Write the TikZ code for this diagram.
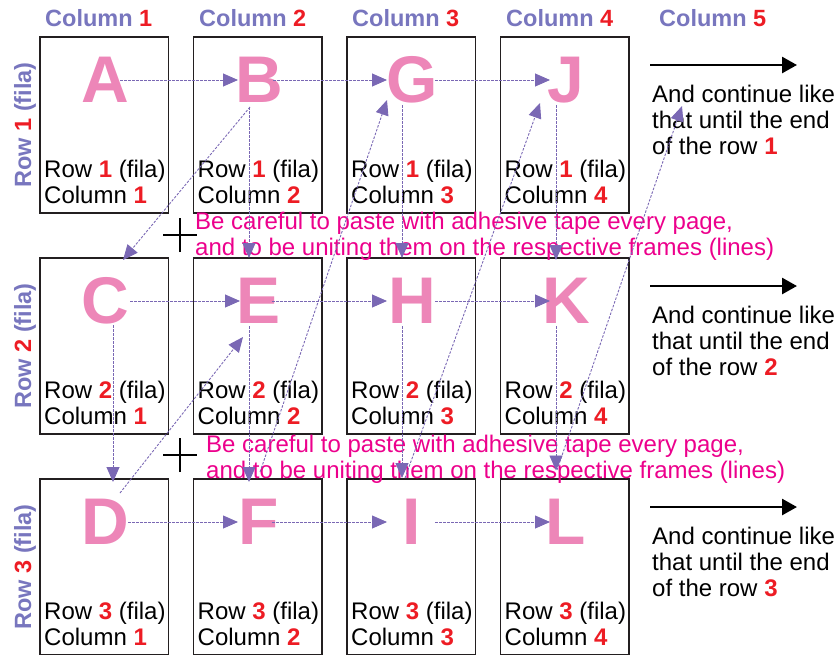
\documentclass[tikz,border=0pt]{standalone}
\usepackage{fontspec}
\setmainfont{Liberation Sans}
\usetikzlibrary{arrows.meta}
\definecolor{headcol}{RGB}{120,118,190}
\definecolor{numred}{RGB}{237,28,36}
\definecolor{letpink}{RGB}{237,134,184}
\definecolor{notepink}{RGB}{236,0,140}
\definecolor{linkcol}{RGB}{122,104,180}
\definecolor{framecol}{RGB}{35,31,32}
\newcommand\nr[1]{\textcolor{numred}{\bfseries #1}}
\tikzset{
 pagebox/.style={draw=framecol, line width=1.4pt, minimum width=128.5pt, minimum height=176pt, anchor=north west, inner sep=0pt, outer sep=0pt},
 letter/.style={text=letpink, font=\fontsize{66}{66}\selectfont\bfseries, inner sep=0pt, text height=47pt, text depth=0pt, anchor=base},
 boxtext/.style={font=\fontsize{24}{26}\selectfont, text=black, align=left, anchor=base west, inner sep=0pt},
 head/.style={font=\fontsize{23.5}{26}\selectfont\bfseries, text=headcol, anchor=base west, inner sep=0pt},
 rowlab/.style={font=\fontsize{23.5}{26}\selectfont\bfseries, text=headcol, anchor=base, rotate=90, inner sep=0pt},
 note/.style={font=\fontsize{24}{26}\selectfont, text=notepink, align=left, anchor=base west, inner sep=0pt},
 link/.style={draw=linkcol, line width=0.9pt, dash pattern=on 2.5pt off 1.5pt, -{Triangle[length=15pt,width=13pt]}},
 bigarrow/.style={draw=black, line width=2.7pt, -{Triangle[length=15pt,width=16pt]}},
 crossline/.style={draw=black, line width=1.8pt},
}
\begin{document}
\begin{tikzpicture}[x=1pt,y=-1pt]
\useasboundingbox (0,0) rectangle (837,654);
% pages
\foreach \c/\x in {1/40,2/193.5,3/347,4/500.5}
 \foreach \r/\y in {1/37,2/258,3/479} {
   \node[pagebox] (p\r\c) at (\x,\y) {};
   \node[boxtext] (t\r\c) at (\x+4,\y+166) {Row \nr{\r} (fila)\\Column \nr{\c}};
 }
% headers
\node[head] (h1) at (45,26) {Column \nr{1}};
\node[head] (h2) at (199,26) {Column \nr{2}};
\node[head] (h3) at (352,26) {Column \nr{3}};
\node[head] (h4) at (506,26) {Column \nr{4}};
\node[head] (h5) at (659,26) {Column \nr{5}};
% row labels
\node[rowlab] (r1) at (31,125) {Row \nr{1} (fila)};
\node[rowlab] (r2) at (31,346) {Row \nr{2} (fila)};
\node[rowlab] (r3) at (31,567) {Row \nr{3} (fila)};
% letters
\node[letter] (A) at (105,102) {A};
\node[letter] (B) at (259,102) {B};
\node[letter] (G) at (412,102) {G};
\node[letter] (J) at (566,102) {J};
\node[letter] (C) at (105,323) {C};
\node[letter] (E) at (259,323) {E};
\node[letter] (H) at (412,323) {H};
\node[letter] (K) at (566,323) {K};
\node[letter] (D) at (105,544) {D};
\node[letter] (F) at (259,544) {F};
\node[letter] (I) at (412,544) {I};
\node[letter] (L) at (566,544) {L};
% notes
\node[note] (n1) at (195,255) {Be careful to paste with adhesive tape every page,\\and to be uniting them on the respective frames (lines)};
\node[note] (n2) at (206,478) {Be careful to paste with adhesive tape every page,\\and to be uniting them on the respective frames (lines)};
% crosses
\coordinate (x1) at (180,235);
\coordinate (x2) at (180,455);
\foreach \q in {x1,x2} {
  \draw[crossline] ([xshift=-17pt]\q) -- ([xshift=17pt]\q);
  \draw[crossline] ([yshift=-17pt]\q) -- ([yshift=17pt]\q);
}
% right side
\foreach \r/\y in {1/65,2/286,3/507} {
  \coordinate (s\r) at (650,\y);
  \coordinate (e\r) at (797,\y);
  \draw[bigarrow] (s\r) -- (e\r);
  \node[boxtext] (m\r) at (652,\y+89) {And continue like\\that until the end\\of the row \nr{\r}};
}
\coordinate (c1) at (682,106);
% horizontal links
\draw[link] ([xshift=15pt,yshift=-1.5pt]A.center) -- ([xshift=-21pt,yshift=-1.5pt]B.center);
\draw[link] ([xshift=14pt,yshift=-1.5pt]B.center) -- ([xshift=-25pt,yshift=-1.5pt]G.center);
\draw[link] ([xshift=23pt,yshift=-1.5pt]G.center) -- ([xshift=-16pt,yshift=-1.5pt]J.center);
\draw[link] ([xshift=25pt,yshift=-1.5pt]C.center) -- ([xshift=-19pt,yshift=-1.5pt]E.center);
\draw[link] ([xshift=13pt,yshift=-1.5pt]E.center) -- ([xshift=-25pt,yshift=-1.5pt]H.center);
\draw[link] ([xshift=23pt,yshift=-1.5pt]H.center) -- ([xshift=-16pt,yshift=-1.5pt]K.center);
\draw[link] ([xshift=23pt,yshift=-1.5pt]D.center) -- ([xshift=-21pt,yshift=-1.5pt]F.center);
\draw[link] ([xshift=13pt,yshift=-1.5pt]F.center) -- ([xshift=-25pt,yshift=-1.5pt]I.center);
\draw[link] ([xshift=23pt,yshift=-1.5pt]I.center) -- ([xshift=-16pt,yshift=-1.5pt]L.center);
% vertical links
\draw[link] ([xshift=-10pt,yshift=-28.5pt]B.center) -- ([xshift=-10pt,yshift=41.5pt]E.center);
\draw[link] ([xshift=-10pt,yshift=-26.5pt]G.center) -- ([xshift=-10pt,yshift=41.5pt]H.center);
\draw[link] ([xshift=-10pt,yshift=-26.5pt]J.center) -- ([xshift=-10pt,yshift=39.5pt]K.center);
\draw[link] ([xshift=8pt,yshift=-25.5pt]C.center) -- ([xshift=8pt,yshift=38.5pt]D.center);
\draw[link] ([xshift=-10pt,yshift=-26.5pt]E.center) -- ([xshift=-10pt,yshift=38.5pt]F.center);
\draw[link] ([xshift=-10pt,yshift=-26.5pt]H.center) -- ([xshift=-10pt,yshift=42.5pt]I.center);
\draw[link] ([xshift=-10pt,yshift=-26.5pt]K.center) -- ([xshift=-10pt,yshift=50pt]L.center);
% diagonal links
\draw[link] ([xshift=-9pt,yshift=-28.5pt]B.center) -- ([xshift=18pt,yshift=39.5pt]C.center);
\draw[link] ([xshift=15pt,yshift=27.5pt]D.center) -- ([xshift=-16pt,yshift=-37.5pt]E.center);
\draw[link] ([xshift=1pt,yshift=48.5pt]F.center) -- ([xshift=-25pt,yshift=-21.5pt]G.center);
\draw[link] ([xshift=-7pt,yshift=42.5pt]I.center) -- ([xshift=-26pt,yshift=-24.5pt]J.center);
\draw[link] ([xshift=-9pt,yshift=50.5pt]L.center) -- (c1);
\end{tikzpicture}
\end{document}
